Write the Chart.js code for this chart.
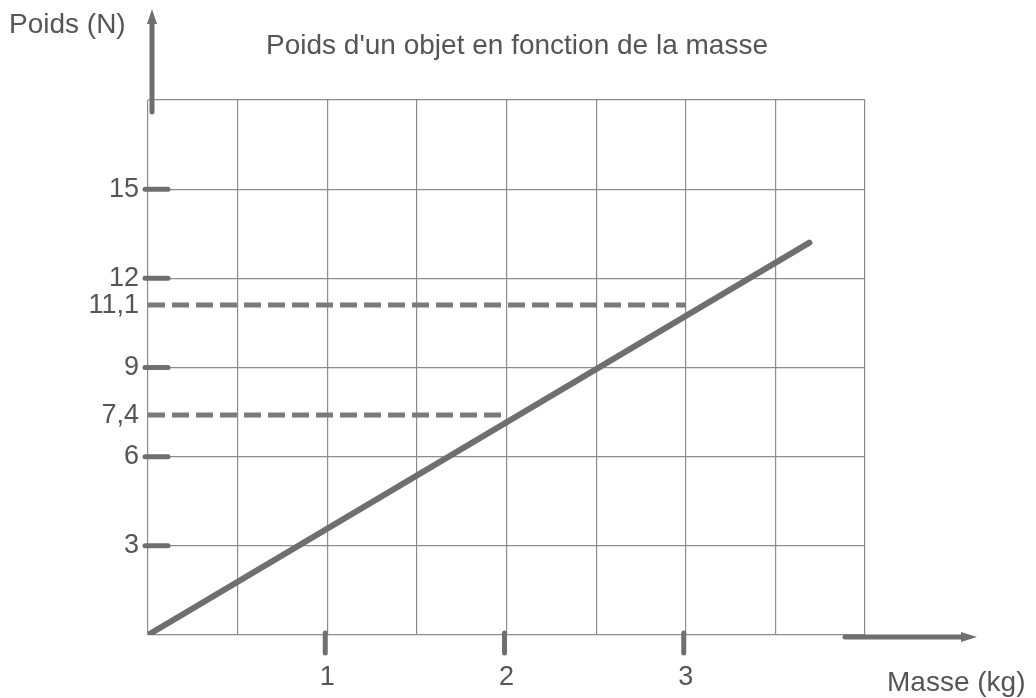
<!DOCTYPE html>
<html><head><meta charset="utf-8">
<script src="https://cdn.jsdelivr.net/npm/chart.js@4/dist/chart.umd.min.js"></script>
<style>html,body{margin:0;padding:0;background:#fff}#wrap{width:1036px;height:698px;position:relative}</style>
</head><body><div id="wrap"><canvas id="c" width="1036" height="698"></canvas></div>
<script>
const titleText = "Poids d'un objet en fonction de la masse";
const xAxisTitle = "Masse (kg)";
const yAxisTitle = "Poids (N)";
const masses = [0, 3.69];
const poids = [0, 13.2];
const readMasses74 = [0, 2];
const readPoids74 = [7.4, 7.4];
const readMasses111 = [0, 3];
const readPoids111 = [11.1, 11.1];
const xGridValues = [0, 0.5, 1, 1.5, 2, 2.5, 3, 3.5, 4];
const xTickValues = [1, 2, 3];
const xTickLabels = ['1', '2', '3'];
const yGridValues = [0, 3, 6, 9, 12, 15, 18];
const yTickValues = [3, 6, 7.4, 9, 11.1, 12, 15];
const yTickLabels = ['3', '6', '7,4', '9', '11,1', '12', '15'];
const yMarkValues = [3, 6, 9, 12, 15];

const FONT = '"Liberation Sans", Arial, sans-serif';
const TEXT = '#555';
const GRID = '#8c8c8c';
const INK = '#6f6f6f';

function toPts(xs, ys) { return xs.map((x, i) => ({x: x, y: ys[i]})); }

const decor = {
  id: 'decor',
  afterDatasetsDraw(chart) {
    const ctx = chart.ctx, xs = chart.scales.x, ys = chart.scales.y;
    const x0 = xs.getPixelForValue(0), y0 = ys.getPixelForValue(0);
    const top = ys.getPixelForValue(18), right = xs.getPixelForValue(4);
    ctx.save();
    ctx.strokeStyle = INK; ctx.fillStyle = INK; ctx.lineCap = 'round';
    // y axis arrow
    ctx.lineWidth = 5;
    ctx.beginPath(); ctx.moveTo(x0 + 4, top + 12); ctx.lineTo(x0 + 4, 22); ctx.stroke();
    ctx.beginPath(); ctx.moveTo(x0 + 4, 9); ctx.lineTo(x0 - 1, 24); ctx.lineTo(x0 + 9, 24); ctx.closePath(); ctx.fill();
    // x axis arrow
    ctx.beginPath(); ctx.moveTo(right - 20, y0 + 2); ctx.lineTo(right + 98, y0 + 2); ctx.stroke();
    ctx.beginPath(); ctx.moveTo(right + 112, y0 + 2); ctx.lineTo(right + 96, y0 - 3); ctx.lineTo(right + 96, y0 + 7); ctx.closePath(); ctx.fill();
    // y tick marks
    ctx.lineWidth = 5;
    yMarkValues.forEach(v => {
      const py = ys.getPixelForValue(v);
      ctx.beginPath(); ctx.moveTo(x0 - 3, py); ctx.lineTo(x0 + 20, py); ctx.stroke();
    });
    // x tick marks
    xTickValues.forEach(v => {
      const px = xs.getPixelForValue(v) - 2;
      ctx.beginPath(); ctx.moveTo(px, y0 - 2); ctx.lineTo(px, y0 + 18); ctx.stroke();
    });
    // texts
    ctx.fillStyle = TEXT;
    ctx.textBaseline = 'middle';
    ctx.font = '28px ' + FONT;
    ctx.textAlign = 'left';
    ctx.fillText(yAxisTitle, 9, 25);
    ctx.textAlign = 'center';
    ctx.fillText(titleText, 517, 46);
    ctx.textAlign = 'left';
    ctx.fillText(xAxisTitle, 887, 683);
    ctx.restore();
  }
};

new Chart(document.getElementById('c'), {
  type: 'scatter',
  data: {
    datasets: [
      { data: toPts(masses, poids), showLine: true, borderColor: INK, borderWidth: 6, pointRadius: 0, borderCapStyle: 'round' },
      { data: toPts(readMasses111, readPoids111), showLine: true, borderColor: '#7a7a7a', borderWidth: 5, borderDash: [17, 7], pointRadius: 0 },
      { data: toPts(readMasses74, readPoids74), showLine: true, borderColor: '#7a7a7a', borderWidth: 5, borderDash: [17, 7], pointRadius: 0 }
    ]
  },
  options: {
    responsive: false,
    animation: false,
    devicePixelRatio: 1,
    layout: { padding: { top: 100, right: 171, left: 0, bottom: 0 } },
    plugins: { legend: { display: false }, tooltip: { enabled: false }, title: { display: false } },
    scales: {
      x: {
        type: 'linear', min: 0, max: 4,
        afterBuildTicks: s => { s.ticks = xGridValues.map(v => ({ value: v })); },
        afterFit: s => { s.height = 63; },
        border: { display: false },
        grid: { color: GRID, lineWidth: 1.2, drawTicks: false },
        ticks: {
          autoSkip: false, maxRotation: 0, padding: 26, color: TEXT,
          font: { size: 27, family: FONT },
          callback: v => { const i = xTickValues.indexOf(v); return i >= 0 ? xTickLabels[i] : ''; }
        }
      },
      y: {
        type: 'linear', min: 0, max: 18,
        afterBuildTicks: s => {
          const all = yGridValues.concat([7.4, 11.1]).sort((a, b) => a - b);
          s.ticks = all.map(v => ({ value: v }));
        },
        afterFit: s => { s.width = 148; },
        border: { display: false },
        grid: {
          drawTicks: false, lineWidth: 1.2,
          color: c => (c.tick && yGridValues.indexOf(c.tick.value) < 0) ? 'rgba(0,0,0,0)' : GRID
        },
        ticks: {
          autoSkip: false, padding: 9, color: TEXT,
          font: { size: 27, family: FONT },
          callback: v => { const i = yTickValues.indexOf(v); return i >= 0 ? yTickLabels[i] : ''; }
        }
      }
    }
  },
  plugins: [decor]
});
</script>
</body></html>
